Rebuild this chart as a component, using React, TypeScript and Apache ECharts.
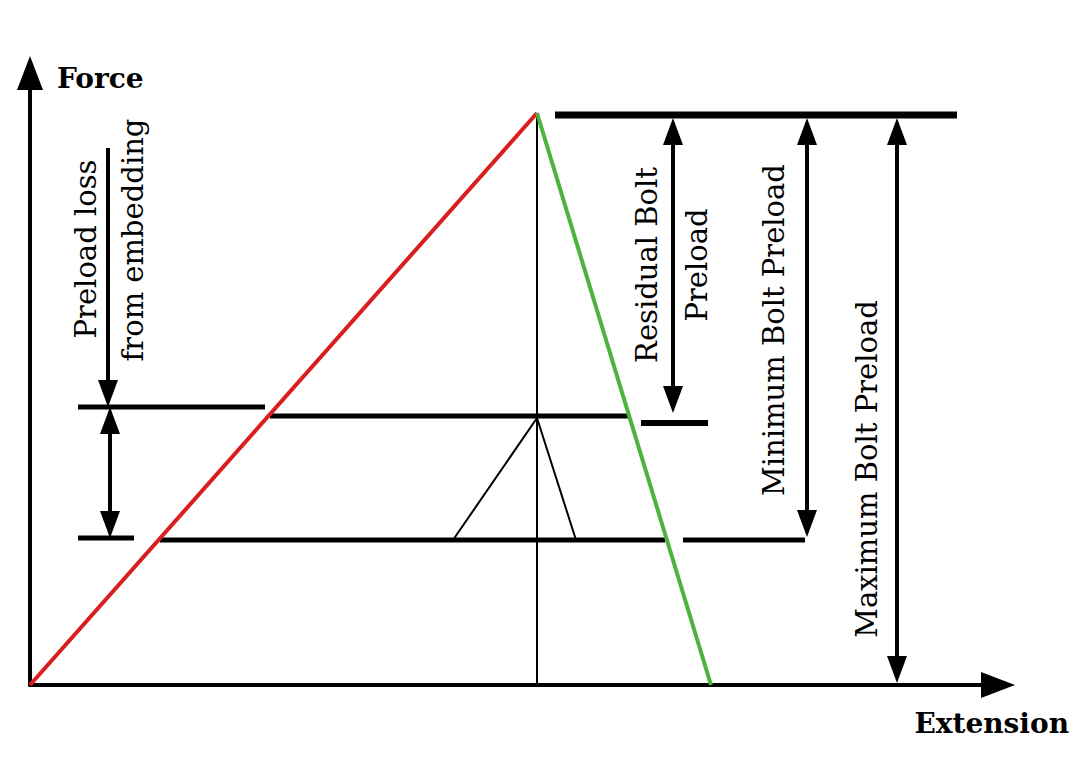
import React, { useEffect, useRef } from "react";
import * as echarts from "echarts";

// Diagram units: x = extension, y = force (schematic, unitless)
const X_MAX = 968;
const Y_MAX = 612;

// Curves
const boltLine = [[0, 0], [507, 572]]; // red: bolt loading
const jointLine = [[507, 572], [681, 0]]; // green: joint
const peakDrop = [[507, 0], [507, 572]]; // thin vertical
const triangle = [[423, 145], [507, 267], [546, 145]]; // thin triangle

// Thick horizontal level lines [x1, x2, y, weight]
const levelLines = [
  [525, 927, 570, 7], // max preload level
  [48, 235, 278, 5], // preload level left
  [240, 598, 269, 5], // residual level
  [611, 678, 262, 6], // residual marker
  [48, 104, 147, 5], // lower left
  [130, 635, 145, 5], // lower level
  [653, 775, 145, 5], // min preload level
];

// Dimension arrows [x, yStart, yEnd, headAtStart, headAtEnd]
const dimArrows = [
  [78, 537, 278, 0, 1], // preload loss from embedding
  [80, 278, 147, 1, 1], // embedding loss span
  [643, 567, 272, 1, 1], // residual bolt preload
  [777, 567, 148, 1, 1], // minimum bolt preload
  [867, 567, 2, 1, 1], // maximum bolt preload
];

// Labels [text, x(px), y(px)]
const rotatedLabels = [
  ["Preload loss", 86, 249],
  ["from embedding", 133, 240],
  ["Residual Bolt", 647, 265],
  ["Preload", 697, 265],
  ["Minimum Bolt Preload", 774, 330],
  ["Maximum Bolt Preload", 867, 469],
];
const axisTitles = { y: "Force", x: "Extension" };

const FONT = "'DejaVu Serif', serif";

export default function App() {
  const ref = useRef<HTMLDivElement>(null);
  useEffect(() => {
    document.body.style.margin = "0";
    if (!ref.current) return;
    const chart = echarts.init(ref.current, null, { renderer: "svg" });

    const series: any[] = [];
    series.push({
      type: "line",
      data: boltLine,
      symbol: "none",
      lineStyle: { color: "#d81e1e", width: 4 },
      z: 5,
    });
    series.push({
      type: "line",
      data: jointLine,
      symbol: "none",
      lineStyle: { color: "#4cb43c", width: 4 },
      z: 5,
    });
    series.push({
      type: "line",
      data: peakDrop,
      symbol: "none",
      lineStyle: { color: "#000", width: 2 },
      z: 3,
    });
    series.push({
      type: "line",
      data: triangle,
      symbol: "none",
      lineStyle: { color: "#000", width: 2 },
      z: 3,
    });
    levelLines.forEach((l) => {
      series.push({
        type: "line",
        data: [[l[0], l[2]], [l[1], l[2]]],
        symbol: "none",
        lineStyle: { color: "#000", width: l[3], cap: "butt" },
        z: 4,
      });
    });

    const HEAD_L = 27;
    const HEAD_W = 20;
    series.push({
      type: "custom",
      clip: false,
      z: 6,
      data: dimArrows,
      encode: { x: 0, y: 1 },
      renderItem: (params: any, api: any) => {
        const x = api.value(0);
        const p1 = api.coord([x, api.value(1)]);
        const p2 = api.coord([x, api.value(2)]);
        const hs = api.value(3);
        const he = api.value(4);
        const dir = p2[1] > p1[1] ? 1 : -1;
        const children: any[] = [];
        const sy = hs ? p1[1] + dir * (HEAD_L - 2) : p1[1];
        const ey = he ? p2[1] - dir * (HEAD_L - 2) : p2[1];
        children.push({
          type: "line",
          shape: { x1: p1[0], y1: sy, x2: p2[0], y2: ey },
          style: { stroke: "#000", lineWidth: 4 },
        });
        if (hs) {
          children.push({
            type: "polygon",
            shape: {
              points: [
                [p1[0], p1[1]],
                [p1[0] - HEAD_W / 2, p1[1] + dir * HEAD_L],
                [p1[0] + HEAD_W / 2, p1[1] + dir * HEAD_L],
              ],
            },
            style: { fill: "#000" },
          });
        }
        if (he) {
          children.push({
            type: "polygon",
            shape: {
              points: [
                [p2[0], p2[1]],
                [p2[0] - HEAD_W / 2, p2[1] - dir * HEAD_L],
                [p2[0] + HEAD_W / 2, p2[1] - dir * HEAD_L],
              ],
            },
            style: { fill: "#000" },
          });
        }
        return { type: "group", children };
      },
    });

    const graphic: any[] = rotatedLabels.map((t) => ({
      type: "text",
      x: t[1],
      y: t[2],
      rotation: Math.PI / 2,
      style: {
        text: t[0],
        fontFamily: FONT,
        fontSize: 29,
        fill: "#000",
        textAlign: "center",
        textVerticalAlign: "middle",
      },
    }));
    graphic.push({
      type: "text",
      x: 57,
      y: 78,
      style: {
        text: axisTitles.y,
        fontFamily: FONT,
        fontWeight: "bold",
        fontSize: 28,
        fill: "#000",
        textAlign: "left",
        textVerticalAlign: "middle",
      },
    });
    graphic.push({
      type: "text",
      x: 1069,
      y: 723,
      style: {
        text: axisTitles.x,
        fontFamily: FONT,
        fontWeight: "bold",
        fontSize: 28,
        fill: "#000",
        textAlign: "right",
        textVerticalAlign: "middle",
      },
    });

    chart.setOption({
      animation: false,
      backgroundColor: "#fff",
      grid: { left: 30, right: 92, top: 73, bottom: 95 },
      xAxis: {
        type: "value",
        min: 0,
        max: X_MAX,
        axisLine: {
          show: true,
          symbol: ["none", "triangle"],
          symbolSize: [26, 34],
          lineStyle: { color: "#000", width: 4 },
        },
        axisTick: { show: false },
        axisLabel: { show: false },
        splitLine: { show: false },
      },
      yAxis: {
        type: "value",
        min: 0,
        max: Y_MAX,
        axisLine: {
          show: true,
          symbol: ["none", "triangle"],
          symbolSize: [26, 34],
          lineStyle: { color: "#000", width: 4 },
        },
        axisTick: { show: false },
        axisLabel: { show: false },
        splitLine: { show: false },
      },
      graphic,
      series,
    });
    return () => chart.dispose();
  }, []);
  return <div ref={ref} style={{ width: 1090, height: 780 }} />;
}
